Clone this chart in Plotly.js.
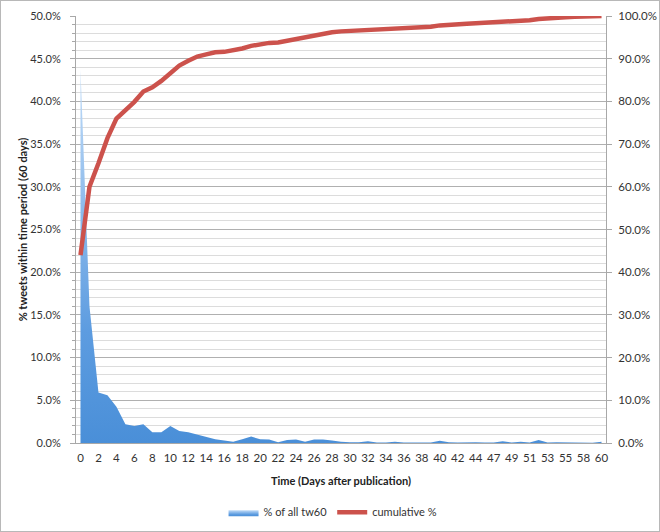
<!DOCTYPE html>
<html>
<head>
<meta charset="utf-8">
<script src="https://cdn.plot.ly/plotly-3.0.1.min.js"></script>
<style>
  body { margin: 0; background: #fff; }
  #gd { width: 658px; height: 530px; border: 1px solid #b8b8b8; }
</style>
</head>
<body>
<div id="gd"></div>
<script>
// day categories (Excel category axis, a couple of days missing)
const days = [0,1,2,3,4,5,6,7,8,9,10,11,12,13,14,15,16,17,18,19,20,
  21,22,23,24,25,26,27,28,29,30,31,32,33,34,35,36,37,38,39,40,
  41,42,43,44,46,47,48,49,50,51,52,53,54,55,57,58,59,60];

// % of all tw60 per day
const pctTw60 = [43.7,16.0,5.9,5.6,4.25,2.2,2.0,2.2,1.25,1.25,2.0,
  1.4,1.25,1.0,0.75,0.45,0.3,0.15,0.45,0.75,0.45,
  0.4,0.1,0.35,0.4,0.15,0.4,0.4,0.3,0.15,0.1,
  0.1,0.2,0.05,0.05,0.15,0.05,0.05,0.05,0.05,0.25,
  0.1,0.05,0.1,0.1,0.05,0.05,0.2,0.05,0.15,0.05,
  0.35,0.05,0.1,0.1,0.02,0.02,0.02,0.15];

// cumulative %
const cumulative = [44.0,60.0,65.5,71.4,76.0,78.0,79.9,82.3,83.3,84.8,86.7,
  88.4,89.5,90.5,91.0,91.5,91.6,91.9,92.4,93.0,93.4,
  93.7,93.8,94.2,94.7,95.0,95.4,95.8,96.2,96.4,96.5,
  96.6,96.8,96.9,97.0,97.2,97.3,97.3,97.4,97.5,97.8,
  98.0,98.1,98.2,98.3,98.4,98.5,98.7,98.8,98.9,99.0,
  99.3,99.5,99.6,99.7,99.8,99.8,99.9,100.0];

const cats = days.map(String);
const tickCats = cats.filter((c, i) => i % 2 === 0);

const font = 'Lato, "Open Sans", sans-serif';

const areaTrace = {
  x: cats,
  y: pctTw60,
  name: '% of all tw60',
  type: 'scatter',
  mode: 'lines',
  fill: 'tozeroy',
  line: { width: 0, color: '#4a8fd8' },
  fillcolor: '#4a8fd8',
  fillgradient: {
    type: 'vertical',
    colorscale: [[0, '#4a8fd8'], [0.3, '#5d9ce0'], [1, '#c3ddf8']]
  }
};

const cumTrace = {
  x: cats,
  y: cumulative,
  name: 'cumulative %',
  type: 'scatter',
  mode: 'lines',
  yaxis: 'y2',
  line: { color: '#cc524c', width: 4.5 }
};

const layout = {
  width: 658,
  height: 530,
  margin: { l: 75, r: 53, t: 15, b: 88, autoexpand: false },
  paper_bgcolor: '#fff',
  plot_bgcolor: '#fff',
  font: { family: font, size: 11, color: '#333' },
  showlegend: true,
  legend: {
    orientation: 'h',
    x: 0.485, xanchor: 'center',
    y: -0.162, yanchor: 'middle',
    font: { size: 11, color: '#333' },
    itemwidth: 30,
    tracegroupgap: 0
  },
  xaxis: {
    type: 'category',
    range: [-0.5, 58.5],
    tickmode: 'array',
    tickvals: tickCats,
    ticktext: tickCats,
    tickangle: 0,
    showgrid: false,
    showline: true,
    linecolor: '#a8a8a8',
    linewidth: 1,
    ticks: '',
    zeroline: false,
    automargin: false,
    ticklabelstandoff: 4,
    tickfont: { size: 11.5 },
    title: {
      text: '<b>Time (Days after publication)</b>',
      font: { size: 11, color: '#222' },
      standoff: 14
    }
  },
  yaxis: {
    range: [0, 50],
    dtick: 5,
    tickformat: '.1f',
    ticksuffix: '%',
    showgrid: true,
    gridcolor: '#b0b0b0',
    gridwidth: 1,
    showline: true,
    linecolor: '#a8a8a8',
    ticks: 'outside',
    ticklen: 5,
    tickcolor: '#a8a8a8',
    ticklabelstandoff: 7,
    zeroline: false,
    automargin: false,
    tickfont: { size: 11 },
    minor: {
      dtick: 1,
      showgrid: true,
      gridcolor: '#dcdcdc',
      gridwidth: 1,
      ticks: 'outside',
      ticklen: 3,
      tickcolor: '#a8a8a8'
    },
    title: {
      text: '<b>% tweets within time period (60 days)</b>',
      font: { size: 11, color: '#222' },
      standoff: 0
    }
  },
  yaxis2: {
    range: [0, 100],
    dtick: 10,
    tickformat: '.1f',
    ticksuffix: '%',
    overlaying: 'y',
    side: 'right',
    showgrid: false,
    showline: true,
    linecolor: '#a8a8a8',
    ticks: 'outside',
    ticklen: 5,
    tickcolor: '#a8a8a8',
    ticklabelstandoff: 4,
    zeroline: false,
    automargin: false,
    tickfont: { size: 11.5 }
  }
};

Plotly.newPlot('gd', [areaTrace, cumTrace], layout, { displayModeBar: false, staticPlot: true });
</script>
</body>
</html>
